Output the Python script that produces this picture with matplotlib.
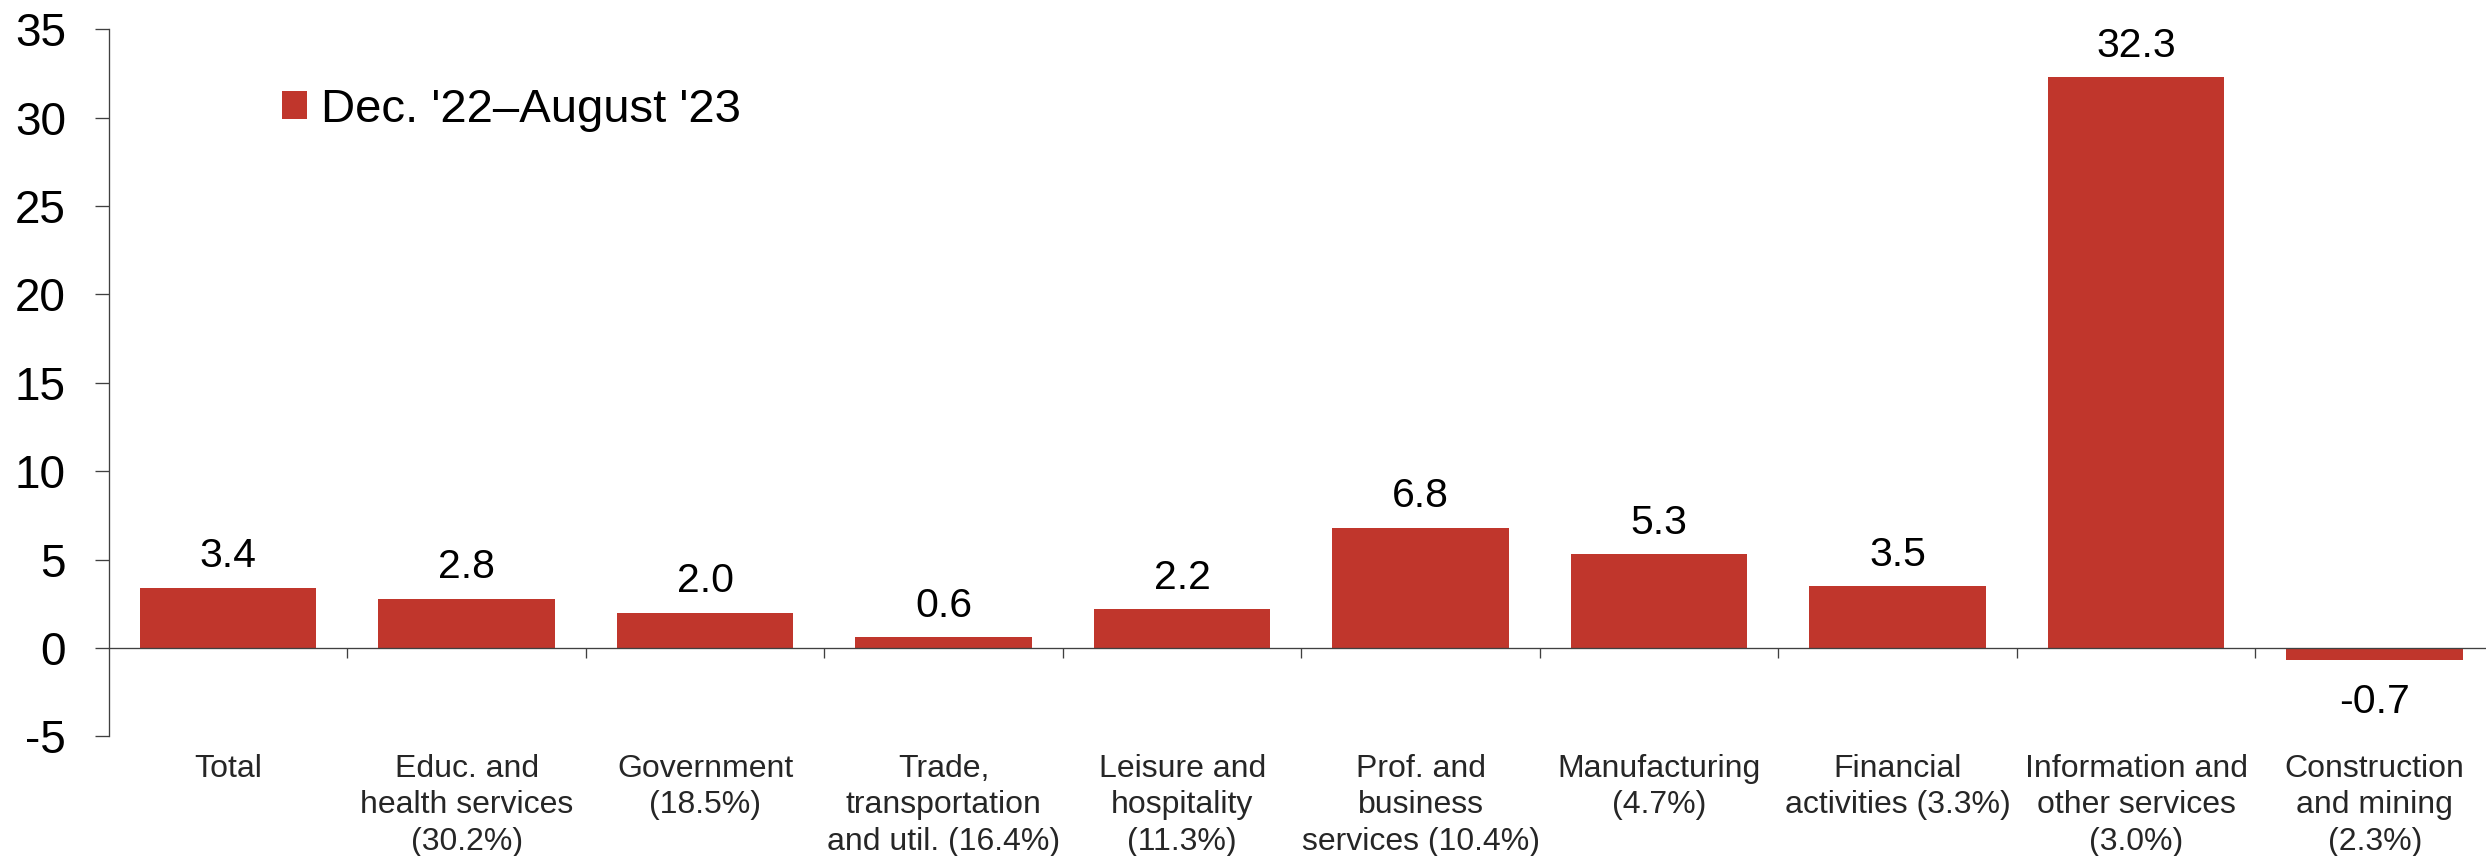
import matplotlib
matplotlib.use("Agg")
import matplotlib.pyplot as plt
import numpy as np

plt.rcParams['font.family'] = ['Liberation Sans', 'DejaVu Sans']
plt.rcParams['axes.unicode_minus'] = False

# job growth by sector, annualized %, Dec. '22 - August '23
categories = ["Total",
              "Educ. and\nhealth services\n(30.2%)",
              "Government\n(18.5%)",
              "Trade,\ntransportation\nand util. (16.4%)",
              "Leisure and\nhospitality\n(11.3%)",
              "Prof. and\nbusiness\nservices (10.4%)",
              "Manufacturing\n(4.7%)",
              "Financial\nactivities (3.3%)",
              "Information and\nother services\n(3.0%)",
              "Construction\nand mining\n(2.3%)"]
values = [3.4, 2.8, 2.0, 0.6, 2.2, 6.8, 5.3, 3.5, 32.3, -0.7]
series_name = "Dec. '22\u2013August '23"
yticks = [-5, 0, 5, 10, 15, 20, 25, 30, 35]

bar_color = '#C0362C'
axis_color = '#404040'

fig = plt.figure(figsize=(24.86, 8.56), dpi=100)
ax = fig.add_axes([0.0438, 0.1397, 0.9594, 0.8261])

x = np.arange(len(categories))
bars = ax.bar(x, values, width=0.74, color=bar_color, label=series_name, zorder=2)

ax.set_xlim(-0.5, len(categories) - 0.5)
ax.set_ylim(-5, 35)
ax.set_yticks(yticks)
ax.tick_params(axis='y', direction='out', length=10, width=0.95, color=axis_color,
               labelsize=33, pad=21, labelcolor='black')

# x axis sits on zero, with small ticks between categories
ax.spines['bottom'].set_position(('data', 0))
ax.spines['top'].set_visible(False)
ax.spines['right'].set_visible(False)
for s in ('left', 'bottom'):
    ax.spines[s].set_color(axis_color)
    ax.spines[s].set_linewidth(0.95)
ax.set_xticks([])
ax.set_xticks(np.arange(0.5, len(categories) - 0.5, 1.0), minor=True)
ax.tick_params(axis='x', which='minor', direction='out', length=7.5, width=0.95,
               color=axis_color, labelbottom=False)

# value labels
for xi, v in zip(x, values):
    if v >= 0:
        ax.annotate(f"{v:.1f}", xy=(xi, v), xytext=(0, 9), textcoords='offset points',
                    ha='center', va='bottom', fontsize=29.5, color='black')
    else:
        ax.annotate(f"{v:.1f}", xy=(xi, v), xytext=(0, -16.5), textcoords='offset points',
                    ha='center', va='top', fontsize=29.5, color='black')

# category names under the plot area
for xi, lab in zip(x, categories):
    ax.annotate(lab, xy=(xi, -5), xytext=(0, -12.5), textcoords='offset points',
                ha='center', va='top', fontsize=23, color='#262626', linespacing=1.28)

ax.legend(loc='center left', bbox_to_anchor=(0.0725, 0.886), frameon=False, fontsize=34,
          handlelength=0.53, handleheight=0.53, handletextpad=0.3,
          borderpad=0, borderaxespad=0)

fig.savefig("out.png", dpi=100)
